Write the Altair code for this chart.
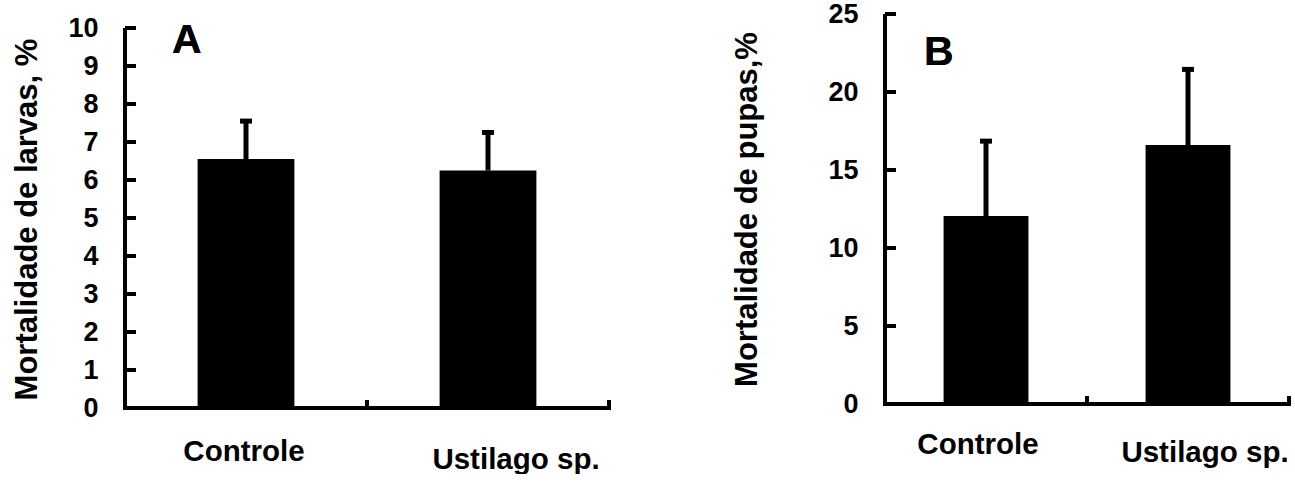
import altair as alt
import pandas as pd

# Treatments and measured mortality (mean and mean + error)
categories = ["Controle", "Ustilago sp."]
larvas = [6.55, 6.25]
larvas_err = [7.55, 7.25]
pupas = [12.05, 16.6]
pupas_err = [16.85, 21.45]

larvas_ticks = [0, 1, 2, 3, 4, 5, 6, 7, 8, 9, 10]
pupas_ticks = [0, 5, 10, 15, 20, 25]

FONT = "Liberation Sans"
H = 394


def panel(values, errs, ticks, domain, width, pad_inner, pad_outer, letter,
          letter_xy, ytitle, title_xy, label_shift):
    df = pd.DataFrame({"trat": categories, "valor": values, "erro": errs})
    tick_df = pd.DataFrame({"v": ticks})
    top = max(ticks)
    step = width / (len(categories) - pad_inner + 2 * pad_outer)

    xaxis = alt.Axis(
        title=None, labelAngle=0, domain=False, ticks=False, tickSize=0,
        labelFont=FONT, labelFontSize=29.5, labelFontWeight="bold",
        labelColor="black", labelBaseline="top", labelAlign="center",
        labelOverlap=False,
        labelOffset={"condition": {"test": "datum.value == 'Ustilago sp.'",
                                   "value": label_shift[1][0]},
                     "value": label_shift[0][0]},
        labelPadding={"condition": {"test": "datum.value == 'Ustilago sp.'",
                                    "value": label_shift[1][1]},
                      "value": label_shift[0][1]},
    )
    yaxis = alt.Axis(
        values=ticks, domain=False, ticks=False, tickSize=0, grid=False,
        labelOverlap=False,
        labelFont=FONT, labelFontSize=27, labelFontWeight="bold",
        labelColor="black", labelPadding=27,
        title=ytitle, titleFont=FONT, titleFontSize=31,
        titleFontWeight="bold", titleColor="black", titleAngle=270,
        titleAlign="center", titleBaseline="middle",
        titleX=title_xy[0], titleY=title_xy[1],
    )
    xscale = alt.Scale(paddingInner=pad_inner, paddingOuter=pad_outer)
    yscale = alt.Scale(domain=domain, nice=False, zero=False)

    def xc():
        return alt.X("trat:N", sort=categories, scale=xscale, axis=xaxis)

    def yf(field):
        return alt.Y(field, scale=yscale, axis=yaxis)

    def yd(v):
        return alt.Y(datum=v, scale=yscale, axis=yaxis)

    base = alt.Chart(df)
    bars = base.mark_bar(color="black").encode(
        x=xc(), y=yf("valor:Q"), y2=alt.datum(0)
    )
    err = base.mark_rule(color="black", strokeWidth=5).encode(
        x=xc(), y=yf("erro:Q"), y2="valor:Q"
    )
    cap = base.mark_tick(color="black", opacity=1, orient="horizontal",
                         size=12, thickness=5).encode(x=xc(), y=yf("erro:Q"))
    # hand-drawn axis lines with inward-pointing ticks
    yline = base.mark_rule(color="black", strokeWidth=4).encode(
        x=alt.value(0), y=yd(0), y2=alt.datum(top)
    )
    xline = base.mark_rule(color="black", strokeWidth=4).encode(
        x=alt.value(-2), x2=alt.value(width + 2), y=yd(0)
    )
    yticks = alt.Chart(tick_df).mark_tick(
        color="black", opacity=1, orient="horizontal", size=11, thickness=4
    ).encode(x=alt.value(5.5), y=yf("v:Q"))
    xticks = base.mark_tick(
        color="black", opacity=1, orient="vertical", size=8, thickness=4,
        xOffset=step / 2, yOffset=-4
    ).encode(x=xc(), y=yd(0))
    tag = base.mark_text(
        text=letter, font=FONT, fontSize=41, fontWeight="bold", color="black",
        align="left", baseline="alphabetic"
    ).encode(x=alt.value(letter_xy[0]), y=alt.value(letter_xy[1]))

    return alt.layer(bars, err, cap, yline, xline, yticks, xticks, tag).properties(
        width=width, height=H
    )


chart_a = panel(
    larvas, larvas_err, larvas_ticks, [0, 10 * H / 380], 484, 0.6, 0.3,
    "A", (47, 39), "Mortalidade de larvas, %", (-98, 205),
    ((-2, 29), (28, 37)),
)
chart_b = panel(
    pupas, pupas_err, pupas_ticks, [-4 / 15.6, 25], 404, 0.58, 0.29,
    "B", (39, 51), "Mortalidade de pupas,%", (-138, 195),
    ((-8, 22), (17, 30)),
)

chart = alt.hconcat(chart_a, chart_b, spacing=276, bounds="flush").properties(
    padding={"left": 10, "top": 0, "right": 0, "bottom": 0},
    background="white",
).configure_view(stroke=None).configure_axis(labelOverlap=False)

chart.save("out.html", embed_options={"renderer": "svg", "actions": False})
